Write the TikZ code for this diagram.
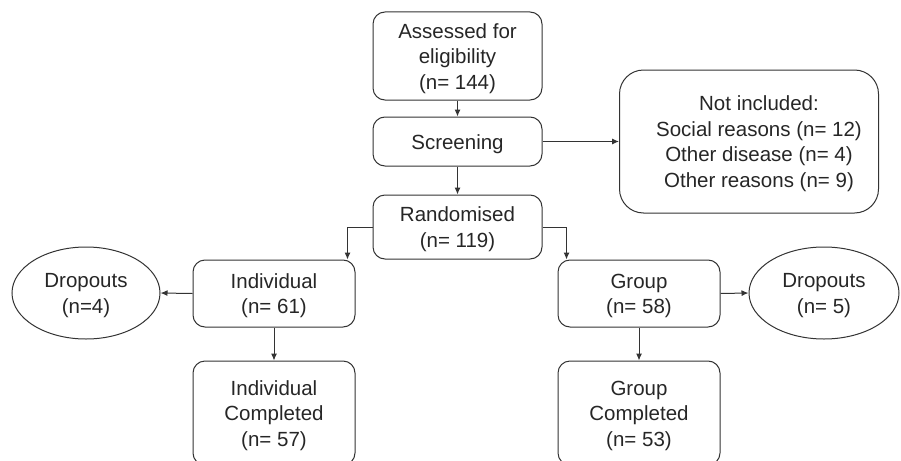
\documentclass[tikz,border=0pt]{standalone}
\usepackage{fontspec}
\setmainfont{Liberation Sans}
\usetikzlibrary{shapes.geometric,arrows.meta,calc}
\newcommand\boxlines[1]{\begin{tabular}{@{}c@{}}\rule{0pt}{23pt}#1\end{tabular}}
\begin{document}
\begin{tikzpicture}[x=1pt,y=-1pt,
  every node/.style={font=\fontsize{20.5}{25.5}\selectfont, text=black!85, inner sep=0pt},
  rbox/.style={draw=black!80, line width=1pt, rounded corners=12pt},
  bigbox/.style={draw=black!80, line width=1pt, rounded corners=24pt},
  oval/.style={draw=black!80, line width=1pt, ellipse},
  conn/.style={draw=black!80, line width=1pt, -{Latex[length=7pt,width=6pt]}}
]
\useasboundingbox (0,0) rectangle (901,460);
\node[rbox, minimum width=169pt, minimum height=88pt] (assess) at (457.5,56) {\boxlines{Assessed for\\eligibility\\(n= 144)}};
\node[rbox, minimum width=169pt, minimum height=49pt] (screen) at (457.5,141.5) {\boxlines{Screening}};
\node[rbox, minimum width=169pt, minimum height=64pt] (rand) at (457.5,227) {\boxlines{Randomised\\(n= 119)}};
\node[bigbox, minimum width=259pt, minimum height=143pt] (notinc) at (749,141.5) {\hspace*{20pt}\boxlines{Not included:\\Social reasons (n= 12)\\Other disease (n= 4)\\Other reasons (n= 9)}};
\node[rbox, minimum width=162pt, minimum height=67pt] (indiv) at (274,293.5) {\boxlines{Individual\\(n= 61)}};
\node[rbox, minimum width=162pt, minimum height=104pt] (indcomp) at (274,413) {\boxlines{Individual\\Completed\\(n= 57)}};
\node[rbox, minimum width=162pt, minimum height=67pt] (group) at (639,293.5) {\boxlines{Group\\(n= 58)}};
\node[rbox, minimum width=162pt, minimum height=104pt] (grpcomp) at (639,413) {\boxlines{Group\\Completed\\(n= 53)}};
\node[oval, minimum width=148pt, minimum height=92pt] (dropL) at (86,293) {\boxlines{Dropouts\\(n=4)}};
\node[oval, minimum width=150pt, minimum height=92pt] (dropR) at (824,293) {\boxlines{Dropouts\\(n= 5)}};
\draw[conn] (assess) -- (screen);
\draw[conn] (screen) -- (rand);
\draw[conn] (screen.east) -- (notinc.west);
\draw[conn] (rand.west) -| ($(indiv.north east)+(-8,0)$);
\draw[conn] (rand.east) -| ($(group.north west)+(9,0)$);
\draw[conn] (indiv.west) -- (dropL.east);
\draw[conn] (group.east) -- (dropR.west);
\draw[conn] (indiv) -- (indcomp);
\draw[conn] (group) -- (grpcomp);
\end{tikzpicture}
\end{document}
